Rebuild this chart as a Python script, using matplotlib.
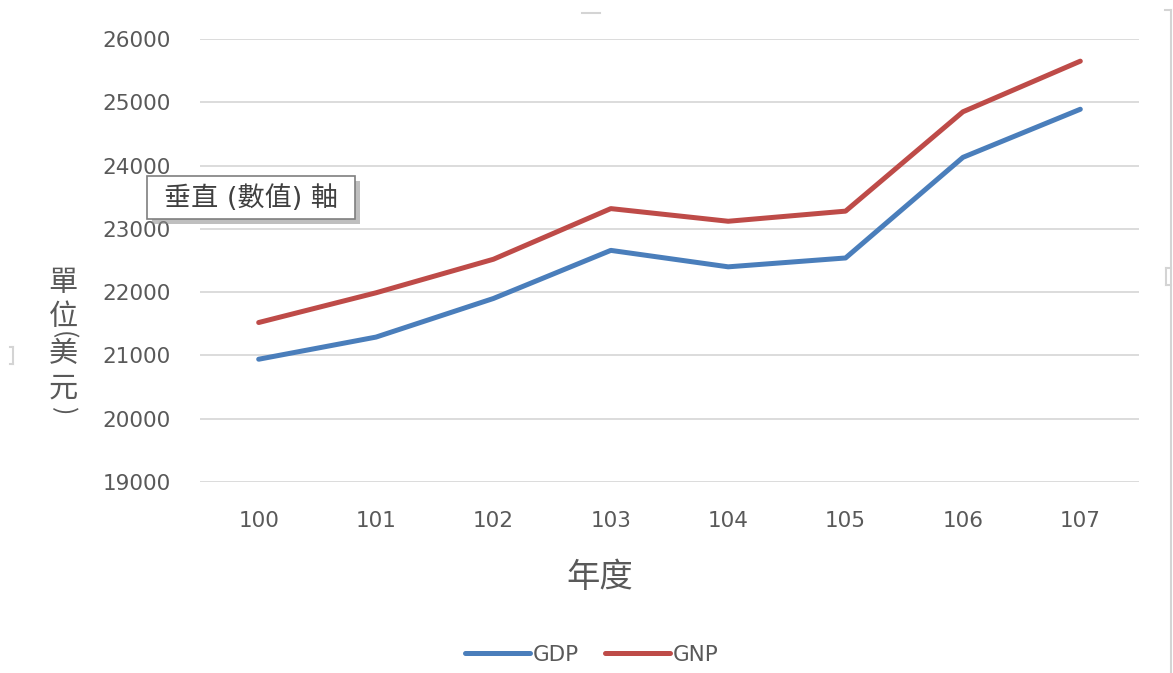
import matplotlib
matplotlib.use("Agg")
import matplotlib.pyplot as plt
from matplotlib.lines import Line2D
from matplotlib.patches import Rectangle

# -------------- DATA ---------------------------------------
years = ["100", "101", "102", "103", "104", "105", "106", "107"]
gdp = [20940, 21290, 21900, 22660, 22400, 22540, 24130, 24890]
gnp = [21520, 21990, 22520, 23320, 23120, 23280, 24850, 25650]
y_ticks = [19000, 20000, 21000, 22000, 23000, 24000, 25000, 26000]

# -------------- STYLE --------------------------------------
W, H = 1173, 673
blue = "#4A7EBB"
red = "#BE4B48"
txt_gray = "#595959"
grid_gray = "#D9D9D9"
latin_first = ["DejaVu Sans", "Noto Sans CJK TC"]
plt.rcParams["font.family"] = ["Noto Sans CJK TC", "DejaVu Sans"]


def px(x, y):
    """pixel (from top-left) -> figure fraction"""
    return x / W, 1 - y / H


fig = plt.figure(figsize=(W / 100, H / 100), dpi=100)
ax = fig.add_axes([200 / W, 1 - 482 / H, 939 / W, (482 - 39) / H])

xs = range(len(years))
ax.plot(xs, gdp, color=blue, linewidth=3.6, solid_capstyle="round",
        solid_joinstyle="round", label="GDP", zorder=3)
ax.plot(xs, gnp, color=red, linewidth=3.6, solid_capstyle="round",
        solid_joinstyle="round", label="GNP", zorder=3)

ax.set_xlim(-0.5, len(years) - 0.5)
ax.set_ylim(19000, 26000)
ax.set_xticks(list(xs))
ax.set_xticklabels(years, family=latin_first)
ax.set_yticks(y_ticks)
ax.set_yticklabels([str(v) for v in y_ticks], family=latin_first)
ax.tick_params(axis="both", length=0, labelsize=15.5, labelcolor=txt_gray)
ax.tick_params(axis="y", pad=21)
ax.tick_params(axis="x", pad=21)
ax.grid(axis="y", color=grid_gray, linewidth=1.3, zorder=0)
for s in ax.spines.values():
    s.set_visible(False)

# x label
fig.text(*px(600, 577), "年度", fontsize=24, color=txt_gray,
         ha="center", va="center")

# y label, stacked vertically
yl_x = 63
for ch, yy, rot, fs in [("單", 283, 0, 21), ("位", 317, 0, 21),
                        ("(", 335, -90, 18), ("美", 354, 0, 21),
                        ("元", 389, 0, 21), (")", 411, -90, 18)]:
    fig.text(*px(yl_x, yy), ch, fontsize=fs, color=txt_gray, rotation=rot,
             ha="center", va="center", rotation_mode="anchor")

# legend
fig.legend(loc="center", bbox_to_anchor=px(592, 655), ncol=2, frameon=False,
           prop={"family": latin_first, "size": 15.5}, labelcolor=txt_gray,
           handlelength=3.0, handletextpad=0.15, columnspacing=1.2)

# tooltip box "垂直 (數值) 軸"
bx0, by0, bx1, by1 = 147, 176, 355, 219
shadow = Rectangle(px(bx0 + 5, by1 + 5), (bx1 - bx0) / W, (by1 - by0) / H,
                   transform=fig.transFigure, facecolor="#8C8C8C",
                   edgecolor="none", alpha=0.55, zorder=10)
box = Rectangle(px(bx0, by1), (bx1 - bx0) / W, (by1 - by0) / H,
                transform=fig.transFigure, facecolor="white",
                edgecolor="#7F7F7F", linewidth=1.2, zorder=11)
fig.add_artist(shadow)
fig.add_artist(box)
fig.text(*px((bx0 + bx1) / 2, (by0 + by1) / 2 + 1), "垂直 (數值) 軸",
         fontsize=19.5, color="#404040", ha="center", va="center", zorder=12,
         family=latin_first)

# chart-area selection handles (light gray)
handle_kw = dict(color="#D4D4D4", linewidth=1.5, transform=fig.transFigure)
segs = [
    ([1171, 1171], [10, 673]),
    ([1165, 1171], [10, 10]),
    ([1166, 1166], [268, 285]),
    ([1166, 1171], [268, 268]),
    ([1166, 1171], [285, 285]),
    ([582, 600], [13, 13]),
    ([13, 13], [347, 364]),
    ([10, 13], [347, 347]),
    ([10, 13], [364, 364]),
]
for sx, sy in segs:
    fig.add_artist(Line2D([v / W for v in sx], [1 - v / H for v in sy],
                          **handle_kw))

fig.savefig("out.png", dpi=100, facecolor="white")
